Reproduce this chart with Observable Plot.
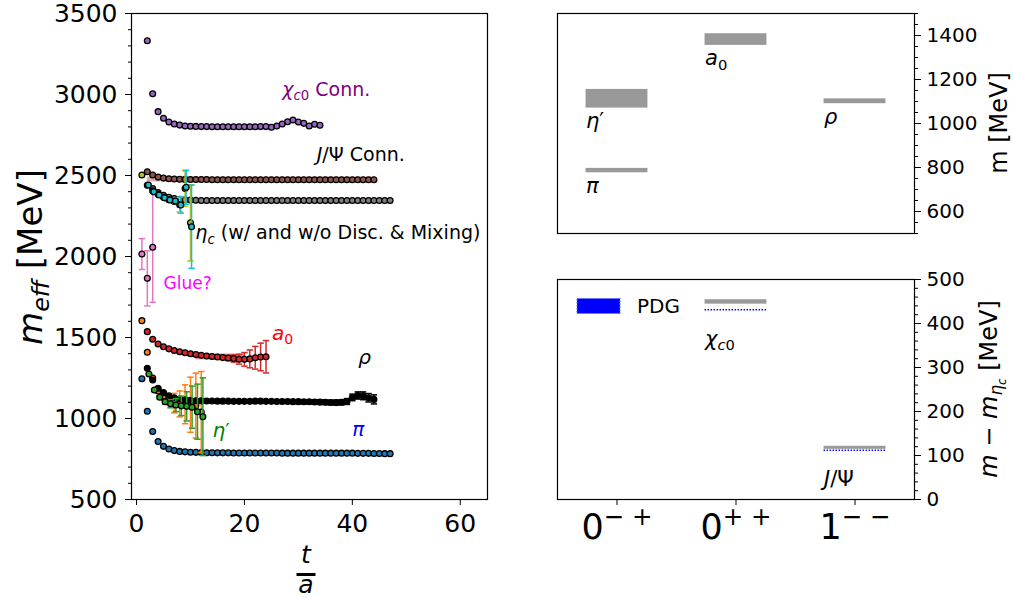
<!DOCTYPE html>
<html><head><meta charset="utf-8">
<script src="https://cdn.jsdelivr.net/npm/d3@7"></script>
<script src="https://cdn.jsdelivr.net/npm/@observablehq/plot@0.6"></script>
<style>
html,body{margin:0;padding:0;background:#fff;}
#chart{position:relative;width:1014px;height:598px;overflow:hidden;font-family:"DejaVu Sans",sans-serif;background:#fff;}
</style></head>
<body><div id="chart"></div>
<script>
// ================= DATA (left panel: effective masses vs t/a) =================
// pi (t = 1..47)
const piT0 = 1;
const piMass = [1245,1045,920,858,828,812,802,797,794,792,791,790,789,789,788,788,788,787,787,787,787,787,787,787,787,787,786,786,786,786,786,786,786,786,786,786,786,786,786,786,785,785,785,784,784,783,783];
// rho (t = 2..44)
const rhoT0 = 2;
const rhoMass = [1310,1238,1186,1160,1140,1128,1120,1115,1112,1110,1109,1108,1108,1107,1107,1107,1106,1106,1106,1106,1107,1107,1106,1106,1105,1105,1105,1104,1104,1103,1103,1102,1101,1100,1099,1098,1100,1105,1130,1142,1140,1128,1118];
const rhoErr  = [0,0,3,4,5,6,7,8,8,9,9,9,9,9,9,9,10,10,10,10,10,10,10,10,11,11,11,11,12,12,12,13,13,14,14,15,16,18,20,22,24,26,28];
// a0 (t = 2..24)
const a0T0 = 2;
const a0Mass = [1536,1489,1460,1443,1430,1420,1412,1406,1400,1395,1390,1386,1383,1380,1376,1373,1370,1366,1365,1368,1375,1380,1381];
const a0Err  = [0,0,0,1,1,2,2,3,3,4,5,6,7,9,12,16,22,30,42,55,70,85,100];
// eta' (second determination, orange, t = 1..12)
const etaPBT0 = 1;
const etaPBMass = [1604,1409,1250,1170,1130,1105,1095,1090,1088,1085,1080,1040];
const etaPBErr  = [0,0,4,8,12,20,60,80,120,170,200,250];
// eta' (green)
const etaPT    = [2.3,3.3,4.3,5.3,6.3,7.3,8.3,9.3,10.3,11.3,12.3];
const etaPMass = [1275,1176,1131,1104,1091,1083,1078,1075,1070,1042,1011];
const etaPErr  = [0,5,10,15,25,40,60,90,130,170,240];
// chi_c0 connected (t = 2..34)
const chiT0 = 2;
const chiMass = [3332,3005,2894,2853,2830,2818,2811,2806,2804,2803,2802,2802,2801,2801,2801,2801,2801,2801,2801,2801,2801,2802,2802,2798,2806,2818,2832,2843,2830,2822,2806,2816,2810];
// J/Psi connected (t = 2..44)
const jpsiT0 = 2;
const jpsiMass = [2523,2503,2490,2484,2480,2478,2477,2476,2475,2475,2475,2475,2474,2474,2474,2474,2474,2474,2474,2474,2474,2474,2474,2474,2474,2474,2474,2474,2474,2474,2474,2474,2474,2474,2474,2474,2474,2474,2474,2474,2474,2474,2474];
// eta_c connected (t = 3..47)
const etacT0 = 3;
const etacMass = [2420,2395,2378,2366,2358,2353,2350,2348,2347,2346,2346,2346,2346,2346,2346,2346,2346,2346,2346,2346,2346,2346,2346,2346,2346,2346,2346,2346,2346,2346,2346,2346,2346,2346,2346,2346,2346,2346,2346,2346,2346,2346,2346,2346,2346];
// eta_c with disconnected & mixing (olive, t = 1..10)
const etacDT0 = 1;
const etacDMass = [2503,2440,2405,2385,2365,2350,2340,2320,2420,2208];
const etacDErr  = [0,0,2,3,5,8,12,45,110,235];
// eta_c with disconnected & mixing (cyan)
const etacMT    = [2.2,3.2,4.2,5.2,6.2,7.2,8.2,9.2,10.2];
const etacMMass = [2441,2400,2380,2362,2349,2343,2318,2427,2184];
const etacMErr  = [0,2,3,5,8,12,50,105,257];
// glue (pink, t = 1..3)
const glueT0 = 1;
const glueMass = [2015,1865,2057];
const glueErr  = [95,170,340];
// fit bands
const fitNames = ["chi_c0","J/Psi","a0"];
const fitT1 = [14,2,11];
const fitT2 = [24,44,20];
const fitLo = [2786,2460,1362];
const fitHi = [2800,2490,1398];
// annotations of left panel
const annText = ["⟨χ⟩_{⟨c⟩0} Conn.","⟨J⟩/Ψ Conn.","⟨η⟩_{⟨c⟩} (w/ and w/o Disc. & Mixing)","Glue?","⟨a⟩_{0}","⟨ρ⟩","⟨η⟩′","⟨π⟩"];
const annT    = [27.0,33.4,10.9,5.0,25.1,41.1,14.1,40.0];
const annM    = [3030,2630,2143,1836,1527,1378,928,934];

// ================= DATA (right panels) =================
const jpcLabels = ["0^{− +}","0^{+ +}","1^{− −}"];
// light mesons, top panel (MeV)
const lightNames = ["⟨π⟩","⟨η⟩′","⟨a⟩_{0}","⟨ρ⟩"];
const lightCat = [0,0,1,2];
const lightLo  = [776,1070,1355,1090];
const lightHi  = [796,1155,1408,1112];
// charmonium splittings m - m_eta_c, bottom panel (MeV)
const charmNames = ["⟨χ⟩_{⟨c⟩0}","⟨J⟩/Ψ"];
const charmCat = [1,2];
const charmLo  = [444,114];
const charmHi  = [454,121];
const charmPDG = [431,112];

(function () {
// ================= helpers =================
const svgNS = "http://www.w3.org/2000/svg";
function mathify(el) {
  const raw = el.textContent;
  if (!/[⟨_^]/.test(raw)) return;
  const F = parseFloat(getComputedStyle(el).fontSize) || 16;
  const runs = []; let italic = false; const stack = []; let buf = "";
  const state = () => ({italic, stack: stack.slice()});
  let cur = state();
  const flush = () => { if (buf) runs.push({text: buf, ...cur}); buf = ""; };
  for (let i = 0; i < raw.length; i++) {
    const ch = raw[i];
    if (ch === "⟨") { flush(); italic = true; cur = state(); }
    else if (ch === "⟩") { flush(); italic = false; cur = state(); }
    else if ((ch === "_" || ch === "^") && raw[i+1] === "{") { flush(); stack.push(ch); i++; cur = state(); }
    else if (ch === "}" && stack.length) { flush(); stack.pop(); cur = state(); }
    else buf += ch;
  }
  flush();
  el.textContent = "";
  let offset = 0;
  for (const r of runs) {
    let size = F, off = 0;
    for (const s of r.stack) { off += s === "_" ? 0.22 * size : -0.40 * size; size *= 0.7; }
    const ts = document.createElementNS(svgNS, "tspan");
    ts.textContent = r.text;
    ts.style.fontSize = size + "px";
    if (r.italic) ts.style.fontStyle = "italic";
    const dy = off - offset;
    if (Math.abs(dy) > 0.01) ts.setAttribute("dy", dy.toFixed(2));
    offset = off;
    el.appendChild(ts);
  }
}
const cap = {draw(ctx) { ctx.moveTo(-3.2, 0); ctx.lineTo(3.2, 0); }};
function rows(ts, ms, es) { return ms.map((m, i) => ({t: ts[i], m, e: es ? es[i] : 0})); }
function idx(t0, n) { return Array.from({length: n}, (_, i) => t0 + i); }
function seriesMarks(data, fill, errColor) {
  const w = data.filter(d => d.e > 0);
  return [
    Plot.ruleX(w, {x: "t", y1: d => d.m - d.e, y2: d => d.m + d.e, stroke: errColor, strokeWidth: 1.5}),
    Plot.dot(w, {x: "t", y: d => d.m + d.e, symbol: cap, fill: "none", stroke: errColor, strokeWidth: 1.5}),
    Plot.dot(w, {x: "t", y: d => d.m - d.e, symbol: cap, fill: "none", stroke: errColor, strokeWidth: 1.5}),
    Plot.dot(data, {x: "t", y: "m", r: 2.9, fill, stroke: "black", strokeWidth: 1.3})
  ];
}
const C = {blue:"#1f77b4", orange:"#ff7f0e", green:"#2ca02c", red:"#d62728", purple:"#9467bd", brown:"#8c564b", pink:"#e377c2", gray:"#7f7f7f", olive:"#bcbd22", cyan:"#17becf"};

const pi   = rows(idx(piT0, piMass.length), piMass);
const rho  = rows(idx(rhoT0, rhoMass.length), rhoMass, rhoErr);
const a0   = rows(idx(a0T0, a0Mass.length), a0Mass, a0Err);
const etaPB= rows(idx(etaPBT0, etaPBMass.length), etaPBMass, etaPBErr);
const etaP = rows(etaPT, etaPMass, etaPErr);
const chi  = rows(idx(chiT0, chiMass.length), chiMass);
const jpsi = rows(idx(jpsiT0, jpsiMass.length), jpsiMass);
const etac = rows(idx(etacT0, etacMass.length), etacMass);
const etacD= rows(idx(etacDT0, etacDMass.length), etacDMass, etacDErr);
const etacM= rows(etacMT, etacMMass, etacMErr);
const glue = rows(idx(glueT0, glueMass.length), glueMass, glueErr);
const fits = fitNames.map((n, i) => ({n, t1: fitT1[i], t2: fitT2[i], lo: fitLo[i], hi: fitHi[i]}));
const fitColor = ["#800080", "rgba(180,110,100,0.55)", "rgba(214,39,40,0.55)"];
const anns = annText.map((s, i) => ({s, t: annT[i], m: annM[i]}));
const annColor = ["purple","black","black","magenta","red","black","green","blue"];
const annSize  = [19,19,19,17,20,20,20,20];

const root = document.getElementById("chart");
function place(svg, x0, y0) {
  svg.style.position = "absolute"; svg.style.left = x0 + "px"; svg.style.top = y0 + "px";
  root.appendChild(svg);
  d3.select(svg).selectAll("text").each(function() { mathify(this); });
}
const baseStyle = size => ({fontFamily: "DejaVu Sans", fontSize: size + "px", background: "transparent", overflow: "visible", color: "black"});

// ================= LEFT PANEL =================
const leftPlot = Plot.plot({
  width: 500, height: 598,
  marginLeft: 131, marginRight: 13, marginTop: 13, marginBottom: 99,
  x: {domain: [-0.93, 65.05]},
  y: {domain: [500, 3500]},
  style: baseStyle(25),
  marks: [
    Plot.rect(fits, {x1: "t1", x2: "t2", y1: "lo", y2: "hi", fill: (d, i) => fitColor[i]}),
    ...seriesMarks(glue, C.pink, C.pink),
    ...seriesMarks(etac, C.gray, C.gray),
    ...seriesMarks(jpsi, C.brown, C.brown),
    ...seriesMarks(etacD, C.olive, C.olive),
    ...seriesMarks(etacM, C.cyan, C.cyan),
    ...seriesMarks(chi, C.purple, C.purple),
    ...seriesMarks(pi, C.blue, C.blue),
    ...seriesMarks(etaPB, C.orange, C.orange),
    ...seriesMarks(rho, "black", "black"),
    ...seriesMarks(etaP, C.green, C.green),
    ...seriesMarks(a0, C.red, C.red),
    Plot.text(anns, {x: "t", y: "m", text: "s", fill: (d, i) => annColor[i], fontSize: (d, i) => annSize[i], textAnchor: "start", lineAnchor: "middle"}),
    Plot.frame({stroke: "black", strokeWidth: 1.2}),
    Plot.axisY({ticks: d3.range(500, 3501, 100), tickSize: 3, fill: "none", label: null}),
    Plot.axisY({ticks: d3.range(500, 3501, 500), tickSize: 6, tickPadding: 8, fontSize: 25, tickFormat: d => String(d), label: null}),
    Plot.axisX({ticks: [0, 20, 40, 60], tickSize: 6, tickPadding: 9, fontSize: 25, tickFormat: d => String(d), label: null})
  ]
});
place(leftPlot, 0, 0);

// ================= TOP RIGHT PANEL =================
const halfW = 0.26;
const light = lightNames.map((n, i) => ({n, c: lightCat[i], lo: lightLo[i], hi: lightHi[i]}));
const topPlot = Plot.plot({
  width: 464, height: 260,
  marginLeft: 7, marginRight: 100, marginTop: 13, marginBottom: 27,
  x: {domain: [-0.5, 2.5], axis: null},
  y: {domain: [500, 1500]},
  style: baseStyle(20),
  marks: [
    Plot.rect(light, {x1: d => d.c - halfW, x2: d => d.c + halfW, y1: "lo", y2: "hi", fill: "#999"}),
    Plot.text(light, {x: d => d.c - halfW, y: "lo", text: "n", textAnchor: "start", lineAnchor: "top", dy: 5, fontSize: 21, fill: "black"}),
    Plot.frame({stroke: "black", strokeWidth: 1.2}),
    Plot.axisY({anchor: "right", ticks: d3.range(500, 1501, 50), tickSize: 3, fill: "none", label: null}),
    Plot.axisY({anchor: "right", ticks: d3.range(600, 1401, 200), tickSize: 6, tickPadding: 6, fontSize: 20, tickFormat: d => String(d), label: null})
  ]
});
place(topPlot, 550, 0);

// ================= BOTTOM RIGHT PANEL =================
const charm = charmNames.map((n, i) => ({n, c: charmCat[i], lo: charmLo[i], hi: charmHi[i], pdg: charmPDG[i]}));
const jpc = jpcLabels.map((s, i) => ({s, c: i}));
const bottomPlot = Plot.plot({
  width: 464, height: 338,
  marginLeft: 7, marginRight: 100, marginTop: 19, marginBottom: 99,
  x: {domain: [-0.5, 2.5]},
  y: {domain: [0, 500]},
  style: baseStyle(20),
  marks: [
    Plot.rect(charm, {x1: d => d.c - halfW, x2: d => d.c + halfW, y1: "lo", y2: "hi", fill: "#999"}),
    Plot.ruleY(charm, {y: "pdg", x1: d => d.c - halfW, x2: d => d.c + halfW, stroke: "#0000ff", strokeWidth: 1.5, strokeDasharray: "1.5,1.5"}),
    Plot.text(charm, {x: d => d.c - halfW, y: d => Math.min(d.lo, d.pdg), text: "n", textAnchor: "start", lineAnchor: "top", dy: 21, fontSize: 21, fill: "black"}),
    Plot.frame({stroke: "black", strokeWidth: 1.2}),
    Plot.axisY({anchor: "right", ticks: d3.range(0, 501, 20), tickSize: 3, fill: "none", label: null}),
    Plot.axisY({anchor: "right", ticks: d3.range(0, 501, 100), tickSize: 6, tickPadding: 6, fontSize: 20, tickFormat: d => String(d), label: null}),
    Plot.axisX({ticks: [0, 1, 2], tickSize: 6, fill: "none", label: null}),
    Plot.text(jpc, {x: "c", frameAnchor: "bottom", text: "s", lineAnchor: "top", dy: 15, fontSize: 35, fill: "black", textAnchor: "middle"})
  ]
});
place(bottomPlot, 550, 260);

// ================= TITLES / LEGEND OVERLAY =================
const ov = d3.select(root).append("svg")
  .attr("width", 1014).attr("height", 598)
  .style("position", "absolute").style("left", "0px").style("top", "0px")
  .style("font-family", "DejaVu Sans").style("pointer-events", "none");
ov.append("text").attr("transform", "translate(42,257) rotate(-90)").attr("text-anchor", "middle")
  .style("font-size", "34px").text("⟨m⟩_{⟨eff⟩} [MeV]");
ov.append("text").attr("x", 306).attr("y", 563).attr("text-anchor", "middle")
  .style("font-size", "25px").style("font-style", "italic").text("t");
ov.append("line").attr("x1", 296.5).attr("x2", 315.5).attr("y1", 574.5).attr("y2", 574.5)
  .attr("stroke", "black").attr("stroke-width", 3);
ov.append("text").attr("x", 306).attr("y", 593).attr("text-anchor", "middle")
  .style("font-size", "25px").style("font-style", "italic").text("a");
ov.append("text").attr("transform", "translate(1007,123) rotate(-90)").attr("text-anchor", "middle")
  .style("font-size", "24px").text("m [MeV]");
ov.append("text").attr("transform", "translate(997,389) rotate(-90)").attr("text-anchor", "middle")
  .style("font-size", "24px").text("⟨m⟩ − ⟨m⟩_{⟨η⟩_{⟨c⟩}} [MeV]");
// legend
ov.append("rect").attr("x", 577).attr("y", 298.5).attr("width", 43).attr("height", 15)
  .attr("fill", "#0000ff").attr("stroke", "#5577ff").attr("stroke-width", 1.2).attr("stroke-dasharray", "1.5,1.5");
ov.append("text").attr("x", 637).attr("y", 313).style("font-size", "20px").text("PDG");
ov.selectAll("text").each(function() { mathify(this); });
})();
</script>
</body></html>
